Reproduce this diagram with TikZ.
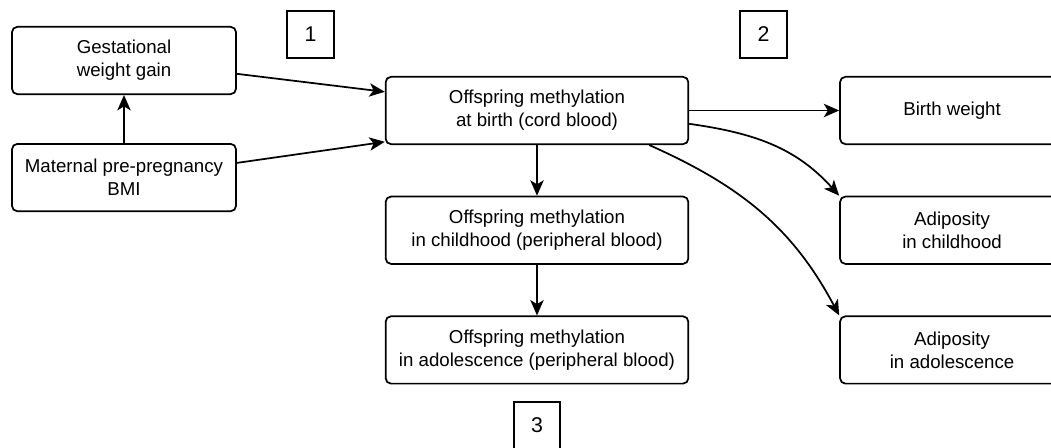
\documentclass[tikz,border=0pt]{standalone}
\usepackage{fontspec}
\setmainfont{Liberation Sans}
\usepackage{tikz}
\usetikzlibrary{arrows.meta,positioning}

\begin{document}
\begin{tikzpicture}[
		x=0.75pt, y=-0.75pt,
		>={Stealth[length=11.5pt,width=10pt,inset=3pt]},
		line width=1.3pt,
		node distance = 38pt and 112.5pt,
		every node/.style = {font=\fontsize{14}{17.25}\selectfont},
		block/.style = {draw, rounded corners=4pt, minimum width=168pt, minimum height=50.5pt, align=center, inner sep=0pt},
		wide/.style = {minimum width=227pt},
		numbox/.style = {draw, rounded corners=0pt, minimum size=35pt, inner sep=0pt, font=\fontsize{16}{18}\selectfont}
		]
		\useasboundingbox (0,0) rectangle (1051,448);
		
		% Middle column -------------------------------------------------
		\node[block, wide] (birth) at (537,110.5) {Offspring methylation\\at birth (cord blood)};
		\node[block, wide, below=of birth] (child) {Offspring methylation\\in childhood (peripheral blood)};
		\node[block, wide, below=of child] (adol) {Offspring methylation\\in adolescence (peripheral blood)};
		
		% Exposures -----------------------------------------------------
		\node[block] (gest) at (124,60.5) {Gestational\\weight gain};
		\node[block, below=36pt of gest] (mat) {Maternal pre-pregnancy\\BMI};
		
		% Outcomes ------------------------------------------------------
		\node[block, right=of birth] (bweight) {Birth weight};
		\node[block, right=of child] (adchild) {Adiposity\\in childhood};
		\node[block, right=of adol] (adadol) {Adiposity\\in adolescence};
		
		% Labels --------------------------------------------------------
		\node[numbox] (one) at (310.5,34.5) {1};
		\node[numbox] (two) at (763.5,34.5) {2};
		\node[numbox] (three) at (537,425.5) {3};
		
		% Arrows --------------------------------------------------------
		\draw[->] (mat) -- (gest);
		\draw[->] ([yshift=-10pt]gest.east) -- ([yshift=14pt]birth.west);
		\draw[->] ([yshift=11pt]mat.east) -- ([yshift=-23.5pt]birth.west);
		\draw[->] (birth) -- (child);
		\draw[->] (child) -- (adol);
		\draw[->] (birth) -- (bweight);
		\draw[->] ([yshift=-10pt]birth.east) to[out=-8, in=132] (adchild.north west);
		\draw[->] ([xshift=-30pt]birth.south east) to[out=-24, in=118] (adadol.north west);
	\end{tikzpicture}
\end{document}
